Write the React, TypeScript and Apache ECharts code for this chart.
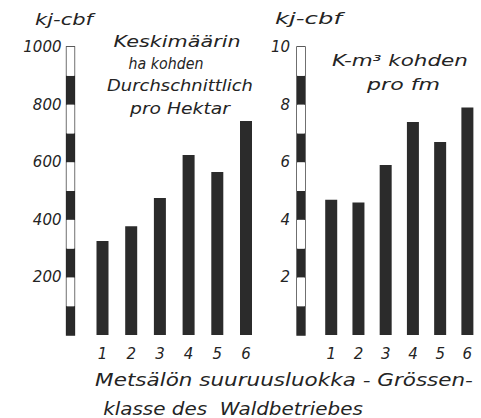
import React, { useEffect, useRef } from "react";
import * as echarts from "echarts";

const categories = ["1", "2", "3", "4", "5", "6"];
const perHectare = [326, 378, 476, 625, 566, 743];
const perCubicMetre = [4.7, 4.6, 5.9, 7.4, 6.7, 7.9];
const unitLabel = "kj-cbf";
const leftNote = ["Keskimäärin", "ha kohden", "Durchschnittlich", "pro Hektar"];
const rightNote = ["K-m³ kohden", "pro fm"];
const xTitle = ["Metsälön suuruusluokka - Grössen-", "klasse des  Waldbetriebes"];

const FONT = "'DejaVu Sans'";
const INK = "#242424";

function measure(text: string, size: number): number {
  const ctx = document.createElement("canvas").getContext("2d");
  if (!ctx) return text.length * size * 0.6;
  ctx.font = `italic ${size}px ${FONT}`;
  return ctx.measureText(text).width;
}

function label(text: string, cx: number, cy: number, w: number, size = 16) {
  const m = measure(text, size);
  return {
    type: "text",
    x: cx,
    y: cy,
    scaleX: w / m,
    silent: true,
    style: {
      text,
      fontSize: size,
      fontFamily: FONT,
      fontStyle: "italic",
      fill: INK,
      align: "center",
      verticalAlign: "middle",
      textAlign: "center",
      textVerticalAlign: "middle",
    },
  };
}

export default function App() {
  const ref = useRef<HTMLDivElement>(null);
  useEffect(() => {
    if (!ref.current) return;
    const chart = echarts.init(ref.current, undefined, { renderer: "svg" });
    const tickLabel = {
      fontStyle: "italic",
      fontSize: 15,
      fontFamily: FONT,
      color: INK,
    };
    const scaleAxis = (max: number, step: number, every: number, margin: number) => ({
      type: "value",
      min: 0,
      max,
      interval: step,
      axisLine: { show: false },
      axisTick: { show: false },
      splitLine: { show: false },
      splitArea: { show: true, areaStyle: { color: ["#2a2a2a", "#ffffff"] } },
      axisLabel: {
        ...tickLabel,
        margin,
        formatter: (v: number) => (v > 0 && Math.abs(v % every) < 1e-6 ? String(v) : ""),
      },
    });
    const catAxis = (gridIndex: number) => ({
      gridIndex,
      type: "category",
      data: categories,
      axisLine: { show: false },
      axisTick: { show: false },
      axisLabel: { ...tickLabel, margin: 11 },
    });
    const scaleGrid = (left: number) => ({
      left,
      top: 47,
      width: 8,
      height: 288,
      show: true,
      borderColor: INK,
      borderWidth: 1.3,
      backgroundColor: "#ffffff",
    });
    chart.setOption({
      animation: false,
      backgroundColor: "#ffffff",
      grid: [
        scaleGrid(66.5),
        { left: 88.15, top: 47, width: 172.2, height: 288 },
        scaleGrid(297),
        { left: 317.6, top: 47, width: 172.8, height: 288 },
      ],
      xAxis: [
        { gridIndex: 0, type: "value", show: false, min: 0, max: 1 },
        catAxis(1),
        { gridIndex: 2, type: "value", show: false, min: 0, max: 1 },
        catAxis(3),
      ],
      yAxis: [
        { gridIndex: 0, ...scaleAxis(1000, 100, 200, 5) },
        { gridIndex: 1, type: "value", min: 0, max: 1000, show: false },
        { gridIndex: 2, ...scaleAxis(10, 1, 2, 7) },
        { gridIndex: 3, type: "value", min: 0, max: 10, show: false },
      ],
      series: [
        {
          type: "bar",
          xAxisIndex: 1,
          yAxisIndex: 1,
          data: perHectare,
          barWidth: 12,
          itemStyle: { color: "#2b2b2b" },
        },
        {
          type: "bar",
          xAxisIndex: 3,
          yAxisIndex: 3,
          data: perCubicMetre,
          barWidth: 12,
          itemStyle: { color: "#2b2b2b" },
        },
      ],
      graphic: [
        label(unitLabel, 64, 19, 58),
        label(unitLabel, 308.5, 19, 67),
        label(leftNote[0], 177, 41, 127),
        label(leftNote[1], 166, 64, 75),
        label(leftNote[2], 180, 85, 146),
        label(leftNote[3], 180, 108, 100),
        label(rightNote[0], 400, 60, 136),
        label(rightNote[1], 403.5, 85, 73),
        label(xTitle[0], 284, 380, 378, 17),
        label(xTitle[1], 233, 409, 260, 17),
      ],
    });
    return () => chart.dispose();
  }, []);
  return (
    <div
      ref={ref}
      style={{ position: "absolute", left: 0, top: 0, width: 481, height: 418 }}
    />
  );
}
